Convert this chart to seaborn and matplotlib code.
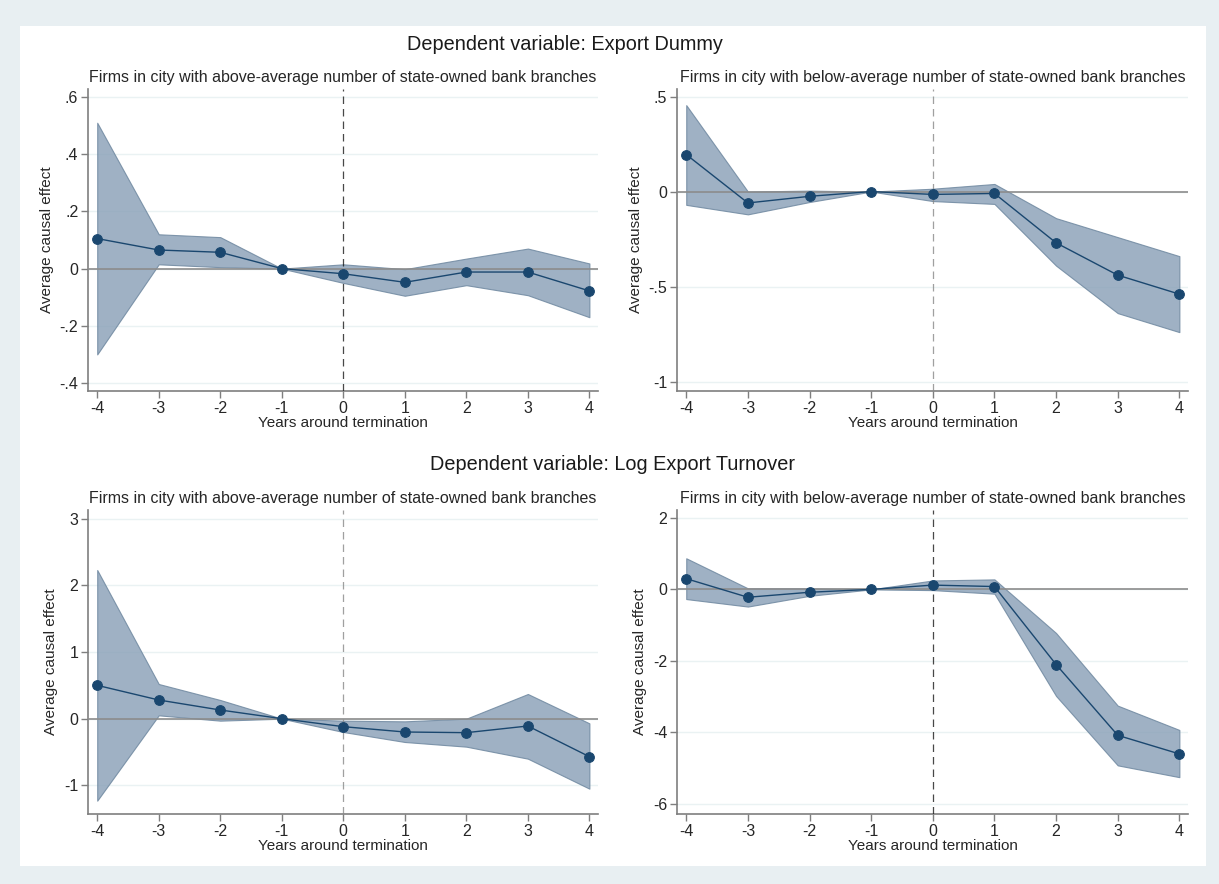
import numpy as np
import matplotlib
matplotlib.use("Agg")
import matplotlib.pyplot as plt
import seaborn as sns
import pandas as pd
from matplotlib.patches import Rectangle

sns.set_theme(style="white")
plt.rcParams['font.family'] = ['Liberation Sans', 'DejaVu Sans']

years = [-4, -3, -2, -1, 0, 1, 2, 3, 4]

# Export dummy, above-average branches
dummy_above = [0.105, 0.065, 0.057, 0.0, -0.018, -0.048, -0.012, -0.012, -0.078]
dummy_above_lo = [-0.30, 0.015, 0.005, 0.0, -0.05, -0.095, -0.058, -0.093, -0.17]
dummy_above_hi = [0.51, 0.12, 0.11, 0.0, 0.015, -0.002, 0.035, 0.07, 0.018]

# Export dummy, below-average branches
dummy_below = [0.195, -0.06, -0.025, 0.0, -0.015, -0.01, -0.27, -0.44, -0.54]
dummy_below_lo = [-0.07, -0.12, -0.055, 0.0, -0.05, -0.065, -0.39, -0.64, -0.74]
dummy_below_hi = [0.455, 0.0, 0.005, 0.0, 0.015, 0.04, -0.14, -0.24, -0.34]

# Log export turnover, above-average branches
logt_above = [0.5, 0.28, 0.13, 0.0, -0.12, -0.2, -0.21, -0.11, -0.57]
logt_above_lo = [-1.23, 0.05, -0.03, 0.0, -0.2, -0.35, -0.42, -0.6, -1.05]
logt_above_hi = [2.23, 0.52, 0.28, 0.0, -0.03, -0.04, 0.0, 0.37, -0.07]

# Log export turnover, below-average branches
logt_below = [0.3, -0.22, -0.08, 0.0, 0.12, 0.08, -2.1, -4.08, -4.6]
logt_below_lo = [-0.27, -0.48, -0.18, 0.0, -0.02, -0.12, -2.98, -4.92, -5.25]
logt_below_hi = [0.87, 0.03, 0.03, 0.0, 0.25, 0.28, -1.22, -3.25, -3.93]

title_above = "Firms in city with above-average number of state-owned bank branches"
title_below = "Firms in city with below-average number of state-owned bank branches"

navy = "#1a476f"
band = "#8ea4ba"
outer_bg = "#e8eff2"

fig = plt.figure(figsize=(12.19, 8.84), dpi=100)
fig.patch.set_facecolor(outer_bg)
fig.patches.append(Rectangle((20 / 1219, 1 - 866 / 884), 1186 / 1219, (866 - 26) / 884,
                             transform=fig.transFigure, facecolor="white",
                             edgecolor="none", zorder=-10))

W, H = 1219, 884
def add_ax(l, r, t, b):
    return fig.add_axes([l / W, 1 - b / H, (r - l) / W, (b - t) / H])

panels = [
    (add_ax(88, 598, 89, 391), dummy_above, dummy_above_lo, dummy_above_hi, title_above,
     (-0.428, 0.628), [-0.4, -0.2, 0, 0.2, 0.4, 0.6], ["-.4", "-.2", "0", ".2", ".4", ".6"], "k"),
    (add_ax(677, 1188, 89, 391), dummy_below, dummy_below_lo, dummy_below_hi, title_below,
     (-1.05, 0.54), [-1, -0.5, 0, 0.5], ["-1", "-.5", "0", ".5"], "#888888"),
    (add_ax(88, 598, 510, 814), logt_above, logt_above_lo, logt_above_hi, title_above,
     (-1.43, 3.13), [-1, 0, 1, 2, 3], ["-1", "0", "1", "2", "3"], "#888888"),
    (add_ax(677, 1188, 510, 814), logt_below, logt_below_lo, logt_below_hi, title_below,
     (-6.28, 2.22), [-6, -4, -2, 0, 2], ["-6", "-4", "-2", "0", "2"], "k"),
]

for ax, est, lo, hi, ttl, ylim, yt, ytl, vcol in panels:
    df = pd.DataFrame({"year": years, "est": est, "lo": lo, "hi": hi})
    ax.set_facecolor("white")
    for y in yt:
        ax.axhline(y, color="#eaf2f3", lw=1.0, zorder=0)
    ax.fill_between(df["year"], df["lo"], df["hi"], color=band, alpha=0.85,
                    edgecolor="#6f88a0", lw=0.8, zorder=2)
    ax.axhline(0, color="#8c8c8c", lw=1.2, zorder=3)
    ax.axvline(0, color=vcol, lw=0.9, ls=(0, (6, 4)), zorder=3, alpha=0.8)
    sns.lineplot(data=df, x="year", y="est", ax=ax, color=navy, lw=1.0,
                 marker="o", markersize=7, markeredgecolor=navy, zorder=4)
    ax.set_xlim(-4.15, 4.14)
    ax.set_ylim(*ylim)
    ax.set_xticks(years)
    ax.set_xticklabels([str(y) for y in years])
    ax.set_yticks(yt)
    ax.set_yticklabels(ytl)
    for s in ["top", "right"]:
        ax.spines[s].set_visible(False)
    for s in ["left", "bottom"]:
        ax.spines[s].set_color("#7f7f7f")
        ax.spines[s].set_linewidth(1.2)
    ax.tick_params(axis="both", direction="out", length=5, width=1, color="#7f7f7f",
                   labelsize=11.5, pad=2, left=True, bottom=True)
    ax.set_xlabel("Years around termination", fontsize=11, labelpad=0)
    ax.set_ylabel("Average causal effect", fontsize=11, labelpad=4)
    ax.set_title(ttl, fontsize=11.5, pad=5)

fig.text(565 / W, 1 - 45 / H, "Dependent variable: Export Dummy", ha="center", va="center",
         fontsize=14.3, color="#1a1a1a")
fig.text(613 / W, 1 - 465 / H, "Dependent variable: Log Export Turnover", ha="center", va="center",
         fontsize=14.3, color="#1a1a1a")

fig.savefig("out.png", dpi=100, facecolor=fig.get_facecolor())
